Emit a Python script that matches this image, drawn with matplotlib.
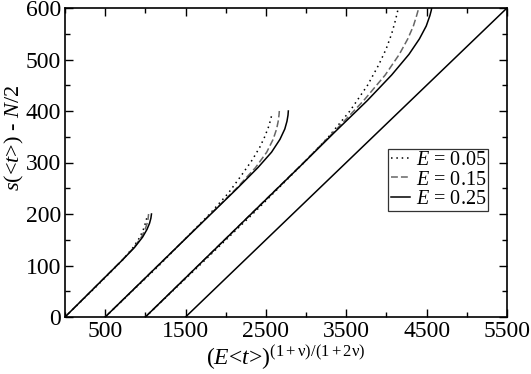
import matplotlib.pyplot as plt

plt.rcParams["font.family"] = ["Liberation Serif", "DejaVu Serif"]
plt.rcParams["mathtext.fontset"] = "custom"
plt.rcParams["mathtext.rm"] = "Liberation Serif"
plt.rcParams["mathtext.it"] = "Liberation Serif:italic"

# group starting at 0 (ends at s = 200)
G1_SOLID_X = [0, 387, 710, 865, 965, 1020, 1052, 1069, 1076]
G1_SOLID_Y = [0, 60, 110, 135, 155, 170, 182, 192, 200]
G1_DASH_X = [0, 387, 708, 858, 950, 997, 1022, 1035, 1040]
G1_DASH_Y = [0, 60, 110, 135, 155, 170, 182, 192, 200]
G1_DOT_X = [0, 395, 712, 848, 932, 975, 1000, 1017]
G1_DOT_Y = [0, 60, 110, 135, 155, 170, 182, 192]

# group starting at 500 (ends at s = 400)
G2_SOLID_X = [500, 1158, 1816, 2145, 2400, 2570, 2675, 2735, 2762, 2775, 2779]
G2_SOLID_Y = [0, 100, 200, 250, 290, 320, 345, 365, 380, 392, 400]
G2_DASH_X = [500, 1158, 1812, 2135, 2370, 2510, 2590, 2633, 2653, 2663, 2667]
G2_DASH_Y = [0, 100, 200, 250, 290, 320, 345, 365, 380, 392, 400]
G2_DOT_X = [500, 1170, 1800, 2030, 2195, 2330, 2425, 2485, 2530, 2557, 2572]
G2_DOT_Y = [0, 100, 200, 240, 275, 305, 330, 350, 368, 382, 392]

# group starting at 1000 (ends at s = 600)
G3_SOLID_X = [1000, 1987, 2974, 3363, 3760, 4065, 4280, 4410, 4495, 4540, 4557, 4563]
G3_SOLID_Y = [0, 150, 300, 360, 420, 470, 510, 540, 565, 585, 595, 600]
G3_DASH_X = [1000, 1987, 2970, 3350, 3715, 3985, 4160, 4265, 4335, 4375, 4393, 4400]
G3_DASH_Y = [0, 150, 300, 360, 420, 470, 510, 540, 565, 585, 595, 600]
G3_DOT_X = [1000, 1672, 2335, 2975, 3280, 3545, 3765, 3905, 3995, 4065, 4110, 4133, 4148]
G3_DOT_Y = [0, 100, 200, 300, 350, 400, 450, 490, 520, 550, 575, 590, 600]

LINE_X = [1500, 5500]
LINE_Y = [0, 600]

LABELS = ["$E$ = 0.05", "$E$ = 0.15", "$E$ = 0.25"]
XTICKS = [500, 1500, 2500, 3500, 4500, 5500]
XMINOR = [0, 1000, 2000, 3000, 4000, 5000]
YTICKS = [0, 100, 200, 300, 400, 500, 600]
YMINOR = [50, 150, 250, 350, 450, 550]

DOT = dict(color="black", lw=1.1, ls=(0, (1, 2.5)))
DASH = dict(color="#666666", lw=1.1, ls=(0, (4.5, 2)))
SOLID = dict(color="black", lw=1.1, ls="-")


def main() -> None:
    fig = plt.figure(figsize=(5.31, 3.74), dpi=100)
    ax = fig.add_axes([65 / 531, 1 - 317 / 374, 442 / 531, 309 / 374])

    h_dot, = ax.plot(G1_DOT_X, G1_DOT_Y, **DOT)
    h_dash, = ax.plot(G1_DASH_X, G1_DASH_Y, **DASH)
    h_solid, = ax.plot(G1_SOLID_X, G1_SOLID_Y, **SOLID)
    ax.plot(G2_DOT_X, G2_DOT_Y, **DOT)
    ax.plot(G2_DASH_X, G2_DASH_Y, **DASH)
    ax.plot(G2_SOLID_X, G2_SOLID_Y, **SOLID)
    ax.plot(G3_DOT_X, G3_DOT_Y, **DOT)
    ax.plot(G3_DASH_X, G3_DASH_Y, **DASH)
    ax.plot(G3_SOLID_X, G3_SOLID_Y, **SOLID)
    ax.plot(LINE_X, LINE_Y, color="black", lw=1.1)

    ax.set_xlim(0, 5500)
    ax.set_ylim(0, 600)
    ax.set_xticks(XTICKS)
    ax.set_xticks(XMINOR, minor=True)
    ax.set_yticks(YTICKS)
    ax.set_yticks(YMINOR, minor=True)
    ax.tick_params(which="both", direction="in", top=True, right=True,
                   labelsize=17, width=1.0)
    ax.tick_params(which="major", length=6, pad=3)
    ax.tick_params(which="minor", length=3.5)
    for sp in ax.spines.values():
        sp.set_linewidth(1.2)

    ax.set_xlabel("($E$<$t$>)$^{\\mathrm{(1+ν)/(1+2ν)}}$", fontsize=17, labelpad=1)
    ax.set_ylabel("$s$(<$t$>) - $N$/2", fontsize=16)
    ax.yaxis.set_label_coords(-0.088, 0.58)

    leg = ax.legend([h_dot, h_dash, h_solid], LABELS, loc="upper left",
                    bbox_to_anchor=(0.731, 0.544), borderaxespad=0,
                    fontsize=14.5, frameon=True, fancybox=False,
                    handlelength=0.95, handletextpad=0.3, labelspacing=0.0,
                    borderpad=0.12)
    leg.get_frame().set_edgecolor("black")
    leg.get_frame().set_linewidth(0.9)

    fig.savefig("out.png", dpi=100)


if __name__ == "__main__":
    main()
